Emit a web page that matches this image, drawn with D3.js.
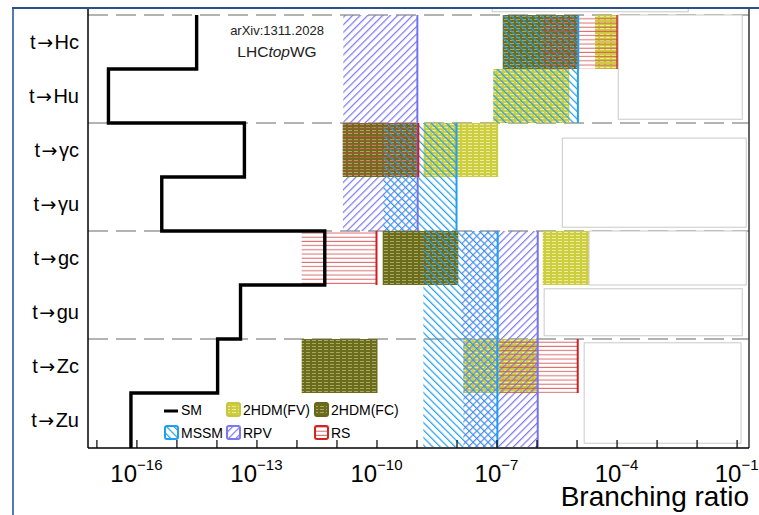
<!DOCTYPE html>
<meta charset="utf-8">
<style>
body { margin: 0; background: #fff; }
svg { font-family: Arial, "Liberation Sans", sans-serif; }
</style>
<svg width="759" height="515"></svg>
<script src="https://d3js.org/d3.v7.min.js"></script>
<script>

// channels, top to bottom
var channels = ["t→Hc", "t→Hu", "t→γc", "t→γu", "t→gc", "t→gu", "t→Zc", "t→Zu"];

// Standard Model branching ratios
var smValues = [3.2e-15, 2e-17, 5e-14, 4.3e-16, 5.1e-12, 4e-14, 1.07e-14, 7.3e-17];

// [low, high] branching ratio ranges per channel, null = not shown
var fvRanges   = [[2.9e-5, 1.05e-4], [8.3e-8, 6.6e-6], [1.5e-9, 1.1e-7], null, [1.43e-6, 1e-4], null, [1.48e-8, 1.07e-6], null];
var rpvRanges  = [[1.48e-11, 1.05e-9], [1.48e-11, 1.05e-9], [1.45e-11, 1.07e-9], [1.45e-11, 1.07e-9], [1.35e-8, 1.07e-6], [1.35e-8, 1.07e-6], [1.48e-8, 1.07e-6], [1.48e-8, 1.07e-6]];
var fcRanges   = [[1.43e-7, 1.11e-5], null, [1.43e-11, 1.11e-9], null, [1.43e-10, 1.11e-8], null, [1.35e-12, 1.06e-10], null];
var mssmRanges = [[1.45e-7, 1.1e-5], [8.3e-8, 1.08e-5], [1.48e-10, 1e-8], [1.48e-10, 1e-8], [1.48e-9, 1.07e-7], [1.48e-9, 1.07e-7], [1.48e-9, 1.05e-7], [1.48e-9, 1.05e-7]];
var rsRanges   = [[1.43e-6, 1.05e-4], null, [1.43e-11, 1.11e-9], null, [1.35e-12, 1e-10], null, [1.17e-7, 1.07e-5], null];

// decades with ticks, decades with labels
var tickExponents = d3.range(-17, 0);
var labelExponents = [-16, -13, -10, -7, -4, -1];

// empty legend frames left over in the original figure: [BR low, BR high, row from, row to]
var frames = [[1.1e-4, 0.138, 0, 1.93], [4.4e-6, 0.174, 2.28, 3.93], [2.05e-5, 0.174, 4.0, 5.0],
              [1.55e-6, 0.138, 5.07, 5.94], [1.55e-5, 0.129, 6.07, 7.93], [7.8e-8, 6.2e-3, -0.13, -0.06]];

var svg = d3.select("svg");

var plotLeft = 88, plotRight = 749, plotTop = 15, plotBottom = 447;

var x = d3.scaleLog().domain([Math.pow(10, -17.21), Math.pow(10, -0.69)]).range([plotLeft, plotRight]);
var y = d3.scaleBand().domain(channels).range([plotTop, plotBottom]);
var bw = y.bandwidth();
var yRow = function(r) { return plotTop + r * bw; };

// patterns
var defs = svg.append("defs");

function hatch(id, color, angle, gap) {
  var p = defs.append("pattern").attr("id", id)
      .attr("patternUnits", "userSpaceOnUse")
      .attr("width", gap).attr("height", gap)
      .attr("patternTransform", "rotate(" + angle + ")");
  p.append("line").attr("x1", 0.6).attr("y1", 0).attr("x2", 0.6).attr("y2", gap)
      .attr("stroke", color).attr("stroke-width", 1.2);
}
hatch("mssm", "#1f9ff0", -45, 5.3);
hatch("rpv", "#7b78f2", 45, 5.3);

function stripes(id, bg, fg) {
  var p = defs.append("pattern").attr("id", id)
      .attr("patternUnits", "userSpaceOnUse")
      .attr("width", 6).attr("height", 3);
  p.append("rect").attr("width", 6).attr("height", 3).attr("fill", bg);
  p.append("line").attr("x1", 0).attr("x2", 4).attr("y1", 1.5).attr("y2", 1.5)
      .attr("stroke", fg).attr("stroke-width", 1);
}
stripes("fv", "#cdcd40", "#ecec9f");
stripes("fc", "#6c6c1d", "#a8a862");

var rs = defs.append("pattern").attr("id", "rs")
    .attr("patternUnits", "userSpaceOnUse").attr("width", 4).attr("height", 4.2);
rs.append("line").attr("x1", 0).attr("x2", 4).attr("y1", 2).attr("y2", 2)
    .attr("stroke", "#cf4545").attr("stroke-opacity", 0.75).attr("stroke-width", 1.1);

// row separators
svg.append("g").selectAll("line")
    .data([0, 2, 4, 6])
  .enter().append("line")
    .attr("x1", plotLeft).attr("x2", plotRight)
    .attr("y1", function(d) { return yRow(d); })
    .attr("y2", function(d) { return yRow(d); })
    .attr("stroke", "#9a9a9a").attr("stroke-width", 1.5)
    .attr("stroke-dasharray", "20,8");

// model bands
function bands(ranges, fill) {
  svg.append("g").selectAll("rect")
      .data(ranges.map(function(r, i) { return r ? {r: r, c: channels[i]} : null; }).filter(Boolean))
    .enter().append("rect")
      .attr("x", function(d) { return x(d.r[0]); })
      .attr("width", function(d) { return x(d.r[1]) - x(d.r[0]); })
      .attr("y", function(d) { return y(d.c); })
      .attr("height", bw)
      .attr("fill", fill);
}
function edges(ranges, color) {
  svg.append("g").selectAll("line")
      .data(ranges.map(function(r, i) { return r ? {r: r, c: channels[i]} : null; }).filter(Boolean))
    .enter().append("line")
      .attr("x1", function(d) { return x(d.r[1]); })
      .attr("x2", function(d) { return x(d.r[1]); })
      .attr("y1", function(d) { return y(d.c); })
      .attr("y2", function(d) { return y(d.c) + bw; })
      .attr("stroke", color).attr("stroke-width", 2);
}

bands(fvRanges, "url(#fv)");
bands(rpvRanges, "url(#rpv)");
bands(fcRanges, "url(#fc)");
bands(mssmRanges, "url(#mssm)");
bands(rsRanges, "url(#rs)");
edges(mssmRanges, "#1f9ff0");
edges(rpvRanges, "#7472f0");
edges(rsRanges, "#cc2020");

// empty frames
svg.append("g").selectAll("rect")
    .data(frames)
  .enter().append("rect")
    .attr("x", function(d) { return x(d[0]); })
    .attr("width", function(d) { return x(d[1]) - x(d[0]); })
    .attr("y", function(d) { return yRow(d[2]); })
    .attr("height", function(d) { return yRow(d[3]) - yRow(d[2]); })
    .attr("fill", "#fff").attr("stroke", "#c9c9c9").attr("stroke-width", 1);

// SM step line
var smPoints = [];
smValues.forEach(function(v, i) {
  smPoints.push([x(v), y(channels[i])]);
  smPoints.push([x(v), y(channels[i]) + bw + (i == channels.length - 1 ? 1 : 0)]);
});
svg.append("path")
    .attr("d", d3.line()(smPoints))
    .attr("fill", "none").attr("stroke", "#000").attr("stroke-width", 3.4)
    .attr("stroke-linejoin", "miter");

// axis ticks
var axis = svg.append("g")
    .attr("transform", "translate(0," + (plotBottom + 1) + ")")
    .call(d3.axisBottom(x)
      .tickValues(tickExponents.map(function(e) { return Math.pow(10, e); }))
      .tickSize(-8).tickFormat(""));
axis.select(".domain").remove();
axis.selectAll(".tick line").attr("stroke", "#000").attr("stroke-width", 1.2);

var labels = svg.append("g").selectAll("text")
    .data(labelExponents)
  .enter().append("text")
    .attr("x", function(e) { return x(Math.pow(10, e)); })
    .attr("y", 482)
    .attr("text-anchor", "middle")
    .attr("fill", "#000");
labels.append("tspan").attr("font-size", 24).text("10");
labels.append("tspan").attr("font-size", 15).attr("dy", -12)
    .text(function(e) { return "\u2212" + Math.abs(e); });

svg.append("text")
    .attr("x", plotRight).attr("y", 506)
    .attr("text-anchor", "end")
    .attr("font-size", 28)
    .text("Branching ratio");

// channel labels
var chLabels = svg.append("g").selectAll("text")
    .data(channels)
  .enter().append("text")
    .attr("x", 79)
    .attr("y", function(d) { return y(d) + bw / 2 + 7; })
    .attr("text-anchor", "end")
    .attr("font-size", 20);
chLabels.append("tspan").text(function(d) { return d.split("→")[0]; });
chLabels.append("tspan").attr("dx", 1.5).attr("font-family", "'DejaVu Sans', sans-serif")
    .attr("font-size", 19).text("→");
chLabels.append("tspan").attr("dx", 1.5).text(function(d) { return d.split("→")[1]; });

// frame
svg.append("line").attr("x1", plotLeft).attr("x2", plotLeft).attr("y1", 9).attr("y2", plotBottom + 1)
    .attr("stroke", "#000").attr("stroke-width", 1.5);
svg.append("line").attr("x1", plotRight).attr("x2", plotRight).attr("y1", 9).attr("y2", plotBottom + 1)
    .attr("stroke", "#333").attr("stroke-width", 1.5);
svg.append("line").attr("x1", plotLeft).attr("x2", plotRight).attr("y1", plotBottom + 1).attr("y2", plotBottom + 1)
    .attr("stroke", "#000").attr("stroke-width", 1.5);
svg.append("line").attr("x1", 13).attr("x2", 13).attr("y1", 8).attr("y2", 515)
    .attr("stroke", "#5479b5").attr("stroke-width", 2);
svg.append("line").attr("x1", 12).attr("x2", 759).attr("y1", 8).attr("y2", 8)
    .attr("stroke", "#2d4f8a").attr("stroke-width", 2.2);

// annotations
svg.append("text").attr("x", 277).attr("y", 35).attr("text-anchor", "middle")
    .attr("font-size", 13).attr("fill", "#222").text("arXiv:1311.2028");
var lhc = svg.append("text").attr("x", 277).attr("y", 57).attr("text-anchor", "middle")
    .attr("font-size", 15.5).attr("fill", "#222");
lhc.append("tspan").text("LHC");
lhc.append("tspan").attr("font-style", "italic").text("top");
lhc.append("tspan").text("WG");

// legend
var legendItems = [
  {name: "SM", col: 0, row: 0},
  {name: "2HDM(FV)", fill: "url(#fv)", stroke: "#c6c640", col: 1, row: 0},
  {name: "2HDM(FC)", fill: "url(#fc)", stroke: "#66661c", col: 2, row: 0},
  {name: "MSSM", fill: "url(#mssm)", stroke: "#1f9ff0", col: 0, row: 1},
  {name: "RPV", fill: "url(#rpv)", stroke: "#7b78f2", col: 1, row: 1},
  {name: "RS", fill: "url(#rs)", stroke: "#d02424", col: 2, row: 1}
];
var colX = [164, 226, 314], rowY = [402, 425];

var li = svg.append("g").selectAll("g")
    .data(legendItems)
  .enter().append("g")
    .attr("transform", function(d) { return "translate(" + colX[d.col] + "," + rowY[d.row] + ")"; });

li.filter(function(d) { return d.fill; }).append("rect")
    .attr("x", 1).attr("y", 1).attr("width", 13).attr("height", 13).attr("rx", 2)
    .attr("fill", function(d) { return d.fill; })
    .attr("stroke", function(d) { return d.stroke; }).attr("stroke-width", 2);
li.filter(function(d) { return !d.fill; }).append("line")
    .attr("x1", 0).attr("x2", 14).attr("y1", 9).attr("y2", 9)
    .attr("stroke", "#000").attr("stroke-width", 3);
li.append("text")
    .attr("x", 17)
    .attr("y", 13)
    .attr("font-size", 14)
    .text(function(d) { return d.name; });

</script>
